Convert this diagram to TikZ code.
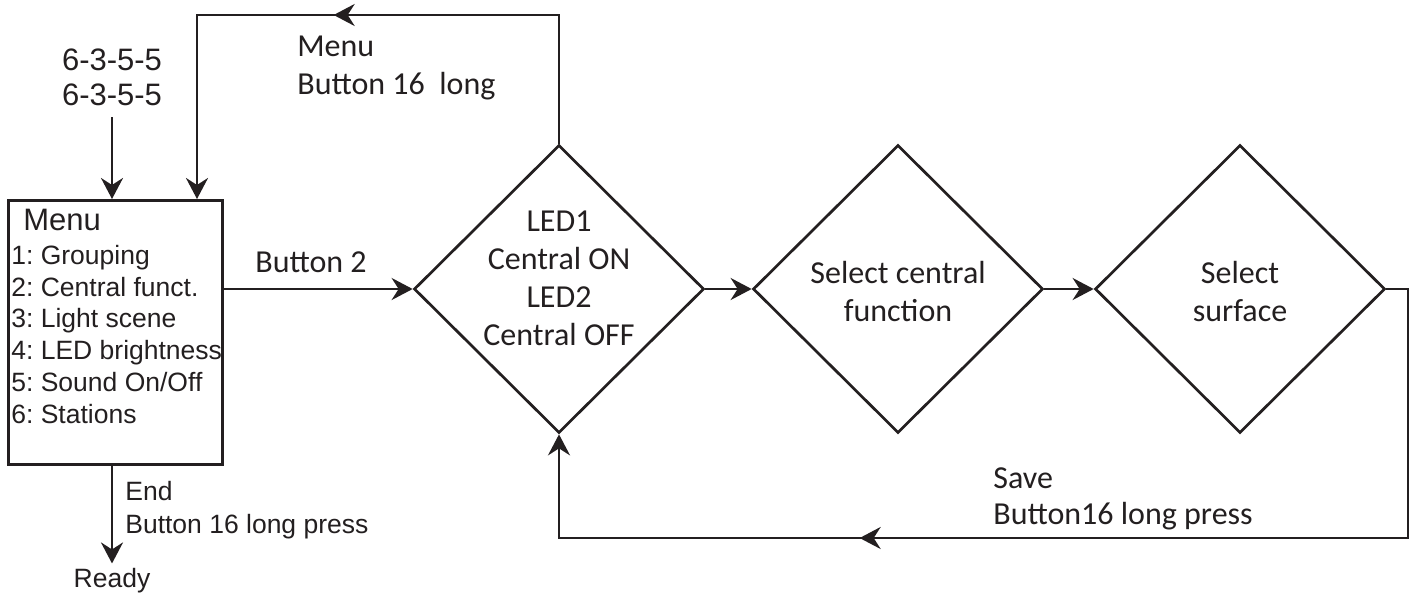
\documentclass[tikz,border=0pt]{standalone}
\usepackage{fontspec}
\setmainfont{Liberation Sans}
\newfontfamily\myriad{Carlito}
\usetikzlibrary{shapes.geometric,arrows.meta,decorations.markings}
\definecolor{ink}{RGB}{35,31,32}
\frenchspacing
\begin{document}
\begin{tikzpicture}[x=1pt,y=-1pt,
  line width=2.7pt, color=ink,
  arr/.style={-{Stealth[length=21pt,width=22pt,inset=7pt]}},
  midtip/.style={postaction={decorate},decoration={markings,mark=at position #1 with {\arrow{Stealth[length=21pt,width=22pt,inset=7pt]}}}},
  dia/.style={diamond,draw,minimum width=290pt,minimum height=288pt,inner sep=0pt},
  mlab/.style={font=\myriad\fontsize{32}{38}\selectfont,inner sep=0pt,align=left},
  alab/.style={font=\fontsize{26.5}{31.8}\selectfont,inner sep=0pt,align=left}
]
\useasboundingbox (0,0) rectangle (1418,597);

% nodes
\node[draw, minimum width=214pt, minimum height=264pt, inner sep=0pt, anchor=north west] (menu) at (7,199) {};
\node[font=\fontsize{31}{36}\selectfont, inner sep=0pt, anchor=base west] (menuhead) at (22,230) {Menu};
\node[alab, anchor=north west] (items) at (10,243.7) {1: Grouping\\2: Central funct.\\3: Light scene\\4: LED brightness\\5: Sound On/Off\\6: Stations};

\node[font=\fontsize{31}{35}\selectfont, inner sep=0pt, anchor=north, align=center] (code) at (112,47.8) {6-3-5-5\\6-3-5-5};

\node[dia] (d1) at (559,289) {};
\node[dia] (d2) at (898,289) {};
\node[dia] (d3) at (1240,289) {};
\node[mlab, align=center] (d1t) at ([yshift=11pt]d1.center) {LED1\\Central ON\\LED2\\Central OFF};
\node[mlab, align=center] (d2t) at ([yshift=-3pt]d2.center) {Select central\\function};
\node[mlab, align=center] (d3t) at ([yshift=-3pt]d3.center) {Select\\surface};

\node[mlab, anchor=north west] (toplab) at (296,34.4) {Menu\\Button 16~ long};
\node[mlab, anchor=base west] (b2) at (254,272) {Button 2};
\node[mlab, anchor=north west, font=\myriad\fontsize{32}{36}\selectfont] (save) at (992,466) {Save\\Button16 long press};

\node[alab, font=\fontsize{26.5}{33}\selectfont, anchor=north west] (endlab) at (124,480) {End\\Button 16 long press};
\node[font=\fontsize{26.5}{30}\selectfont, inner sep=3pt, anchor=base] (ready) at (112,587) {Ready};

\coordinate (tr) at (559,15);
\coordinate (tl) at (197,15);
\coordinate (br) at (1408,538);

% connectors
\draw[arr] ([yshift=-10pt]code.south) -- (code.south |- menu.north);
\draw[arr, midtip=354pt] (d1.north) -- (tr) -- (tl) -- (tl |- menu.north);
\draw[arr] (menu.east |- d1.west) -- (d1.west);
\draw[arr] (d1.east) -- (d2.west);
\draw[arr] (d2.east) -- (d3.west);
\draw[arr, midtip=819pt] (d3.east) -- (br |- d3.east) -- (br) -- (d1.south |- br) -- (d1.south);
\draw[arr] (menu.south -| ready.north) -- (ready.north);
\end{tikzpicture}
\end{document}
